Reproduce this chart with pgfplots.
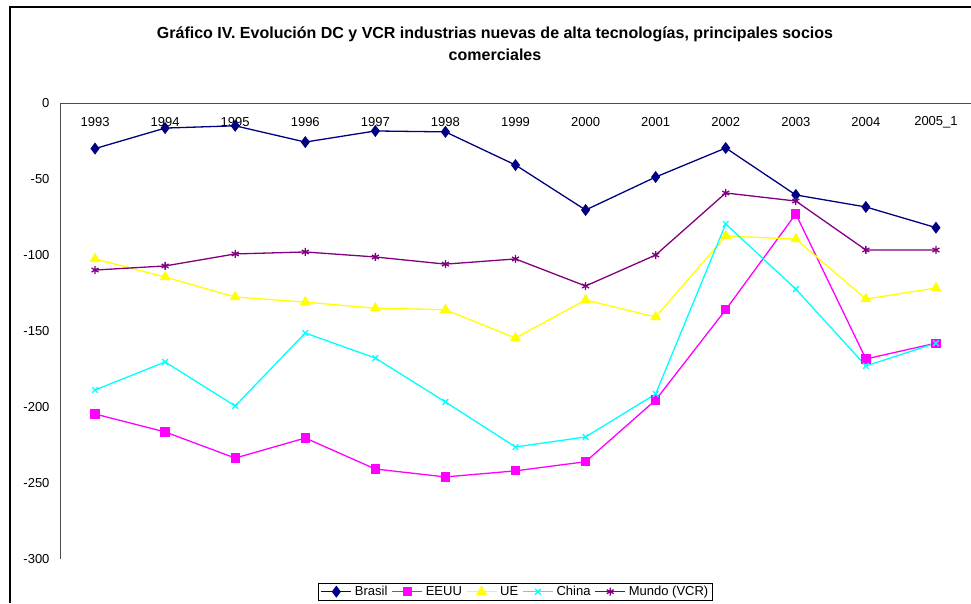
\documentclass[border=0pt]{standalone}
\usepackage{fontspec}
\setmainfont{Liberation Sans}
\usepackage{pgfplots}
\pgfplotsset{compat=1.18}
\definecolor{cBrasil}{HTML}{000080}
\definecolor{cEEUU}{HTML}{FF00FF}
\definecolor{cUE}{HTML}{FFFF00}
\definecolor{cChina}{HTML}{00FFFF}
\definecolor{cMundo}{HTML}{800080}
\begin{document}
\begin{tikzpicture}
\path[use as bounding box] (0pt,0pt) rectangle (971pt,603pt);
\draw[line width=1.1pt] (10pt,0pt) -- (10pt,596pt) -- (971pt,596pt);
\node[align=center, font=\fontsize{16}{22}\selectfont\bfseries] at (495pt,559pt)
  {Gráfico IV. Evolución DC y VCR industrias nuevas de alta tecnologías, principales socios\\comerciales};
\begin{axis}[
  at={(60pt,44pt)}, anchor=south west,
  width=911pt, height=456pt, scale only axis,
  xmin=-0.5, xmax=12.5, ymin=-300, ymax=0,
  xtick={0,...,12},
  xticklabels={1993,1994,1995,1996,1997,1998,1999,2000,2001,2002,2003,2004,2005\_1},
  ytick={-300,-250,-200,-150,-100,-50,0},
  yticklabels={-300,-250,-200,-150,-100,-50,0},
  xticklabel pos=upper,
  xticklabel style={anchor=center, yshift=-19pt},
  yticklabel style={anchor=east, xshift=-7pt},
  major tick length=0pt,
  tick label style={font=\fontsize{13}{15}\selectfont},
  /pgf/number format/assume math mode=true,
  axis line style={draw=none},
  clip=false,
  every axis plot/.append style={line width=1.3pt, mark size=4pt},
  legend columns=5,
  legend style={at={(axis description cs:0.5,0)}, anchor=north, yshift=-24pt,
    draw=black, font=\fontsize{13}{15}\selectfont,
    inner xsep=2pt, inner ysep=1pt,
    /tikz/every even column/.append style={column sep=2pt},
    /tikz/every odd column/.append style={column sep=1pt}},
  legend image code/.code={\draw[mark repeat=2,mark phase=2] plot coordinates {(0pt,0pt) (15pt,0pt) (30pt,0pt)};},
]
\draw[line width=0.9pt, black!70] (rel axis cs:0,0) -- (rel axis cs:0,1) -- (rel axis cs:1,1);
\addplot[cBrasil, mark=diamond*, mark size=5pt] coordinates {
 (0,-30) (1,-16.5) (2,-15) (3,-25.7) (4,-18.4) (5,-19) (6,-40.8) (7,-70.4) (8,-48.7) (9,-29.6) (10,-60.5) (11,-68.4) (12,-82)};
\addplot[cEEUU, mark=square*, mark size=4pt] coordinates {
 (0,-204.6) (1,-216.4) (2,-233.6) (3,-220.4) (4,-240.8) (5,-246) (6,-242) (7,-236) (8,-195.4) (9,-136) (10,-73) (11,-168.4) (12,-158)};
\addplot[cUE, mark=triangle*, mark size=5pt] coordinates {
 (0,-102.6) (1,-114.5) (2,-127.6) (3,-131) (4,-135) (5,-136) (6,-154.6) (7,-129.6) (8,-140.8) (9,-87.5) (10,-89.5) (11,-129) (12,-121.7)};
\addplot[cChina, mark=x, mark size=4pt] coordinates {
 (0,-188.8) (1,-170.4) (2,-199.3) (3,-151.3) (4,-167.8) (5,-196.7) (6,-226.3) (7,-219.7) (8,-191.4) (9,-79.6) (10,-122.4) (11,-173) (12,-158)};
\addplot[cMundo, mark=asterisk, mark size=4pt] coordinates {
 (0,-109.9) (1,-107.2) (2,-99.3) (3,-98) (4,-101.3) (5,-106) (6,-102.6) (7,-120.4) (8,-100) (9,-59.2) (10,-64.5) (11,-96.7) (12,-96.7)};
\legend{Brasil, EEUU, UE, China, Mundo (VCR)}
\end{axis}
\end{tikzpicture}
\end{document}
